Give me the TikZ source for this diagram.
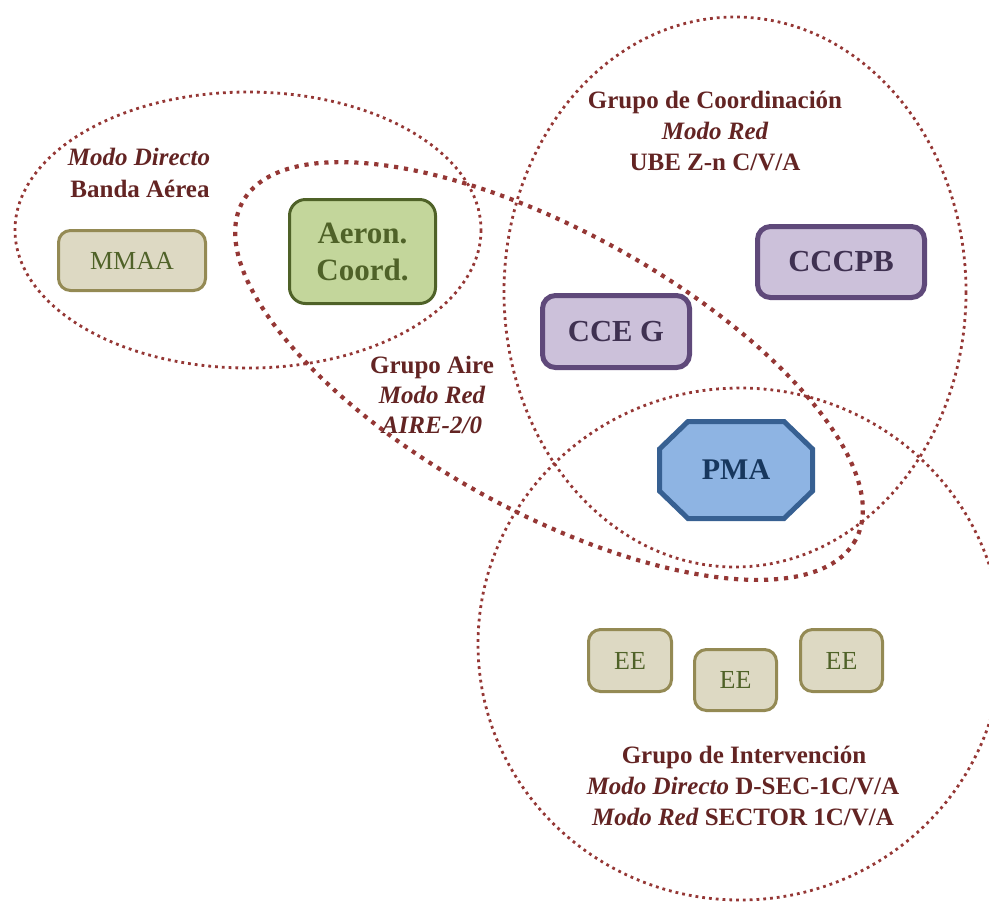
\documentclass[tikz,border=0pt]{standalone}
\usepackage{fontspec}
\setmainfont{Liberation Serif}
\definecolor{ringred}{HTML}{953735}
\definecolor{labred}{HTML}{632423}
\definecolor{tanfill}{HTML}{DDD9C3}
\definecolor{tandraw}{HTML}{948A54}
\definecolor{olivetext}{HTML}{4F6228}
\definecolor{greenfill}{HTML}{C3D69B}
\definecolor{greendraw}{HTML}{4F6228}
\definecolor{lilacfill}{HTML}{CCC1DA}
\definecolor{lilacdraw}{HTML}{5F497A}
\definecolor{lilactext}{HTML}{3F3151}
\definecolor{bluefill}{HTML}{8EB4E3}
\definecolor{bluedraw}{HTML}{376092}
\definecolor{bluetext}{HTML}{17375E}
\begin{document}
\begin{tikzpicture}[x=0.5pt,y=-0.5pt,
  thinring/.style={draw=ringred, line width=1.4pt, dash pattern=on 1.4pt off 2pt},
  thickring/.style={draw=ringred, line width=2.1pt, dash pattern=on 2.1pt off 2.9pt},
  tanbox/.style={draw=tandraw, fill=tanfill, line width=1.5pt, rounded corners=6pt,
    text=olivetext, font=\fontsize{13}{15}\selectfont, inner sep=0pt},
  greenbox/.style={draw=greendraw, fill=greenfill, line width=1.5pt, rounded corners=8pt,
    text=greendraw, font=\bfseries\fontsize{15.5}{18.5}\selectfont, inner sep=0pt, align=center},
  lilacbox/.style={draw=lilacdraw, fill=lilacfill, line width=2.5pt, rounded corners=6.5pt,
    text=lilactext, font=\bfseries\fontsize{15.3}{18}\selectfont, inner sep=0pt},
  octbox/.style={draw=bluedraw, fill=bluefill, line width=2.5pt},
  octtext/.style={text=bluetext, font=\bfseries\fontsize{15}{18}\selectfont, inner sep=0pt},
  lab/.style={text=labred, font=\bfseries\fontsize{12.5}{15}\selectfont, anchor=base, inner sep=0pt}]
\useasboundingbox (0,0) rectangle (989,902);
% rings
\draw[thinring] (248,230) ellipse [x radius=233, y radius=138];
\draw[thinring] (735,292) ellipse [x radius=231, y radius=275];
\draw[thinring] (740,644) ellipse [x radius=262, y radius=256];
\draw[thickring, rotate around={-28.9:(549,371)}] (549,371) ellipse [x radius=350, y radius=140];
% boxes
\node[tanbox, minimum width=73.5pt, minimum height=30pt] (mmaa) at (132,260.5) {MMAA};
\node[greenbox, minimum width=73pt, minimum height=52pt] (aeron) at (362.5,251.5) {Aeron.\\Coord.};
\node[lilacbox, minimum width=83.5pt, minimum height=35.5pt] (cccpb) at (841,262) {CCCPB};
\node[lilacbox, minimum width=73.5pt, minimum height=36pt] (cceg) at (616,331.5) {CCE G};
\path[octbox] (659.5,449) -- (688,421.5) -- (784,421.5) -- (812.5,449) -- (812.5,491)
  -- (784,518.5) -- (688,518.5) -- (659.5,491) -- cycle;
\node[octtext] (pma) at (736,470) {PMA};
\node[tanbox, minimum width=41.5pt, minimum height=31pt] (ee1) at (630,660.5) {EE};
\node[tanbox, minimum width=41pt, minimum height=30.5pt] (ee2) at (735.5,680) {EE};
\node[tanbox, minimum width=41pt, minimum height=31pt] (ee3) at (841.5,660.5) {EE};
% labels
\node[lab] (bd1) at (139,165) {\itshape Modo Directo};
\node[lab] (bd2) at (140,197) {Banda Aérea};
\node[lab] (gc1) at (715,108) {Grupo de Coordinación};
\node[lab] (gc2) at (715,139) {\itshape Modo Red};
\node[lab] (gc3) at (715,170) {UBE Z-n C/V/A};
\node[lab] (ga1) at (432,373) {Grupo Aire};
\node[lab] (ga2) at (432,403) {\itshape Modo Red};
\node[lab] (ga3) at (432,433) {\itshape AIRE-2/0};
\node[lab] (gi1) at (744,763) {Grupo de Intervención};
\node[lab] (gi2) at (743,794) {\textit{Modo Directo} D-SEC-1C/V/A};
\node[lab] (gi3) at (743,825) {\textit{Modo Red} SECTOR 1C/V/A};
\end{tikzpicture}
\end{document}
